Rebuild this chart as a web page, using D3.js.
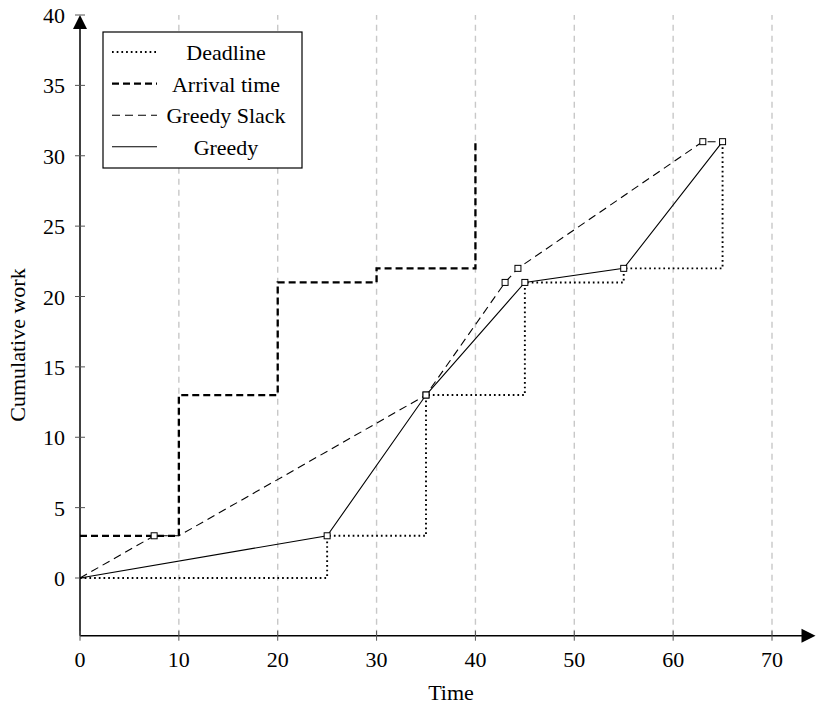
<!DOCTYPE html>
<html>
<head>
<meta charset="utf-8">
<script src="https://cdn.jsdelivr.net/npm/d3@7"></script>
<style>
  html, body { margin: 0; padding: 0; background: #fff; }
  svg { display: block; font-family: "Liberation Serif", "DejaVu Serif", serif; }
</style>
</head>
<body>
<div id="chart"></div>
<script>
const xTicks = [0, 10, 20, 30, 40, 50, 60, 70];
const yTicks = [0, 5, 10, 15, 20, 25, 30, 35, 40];

const deadlineX = [0, 25, 25, 35, 35, 45, 45, 55, 55, 65, 65];
const deadlineY = [0, 0, 3, 3, 13, 13, 21, 21, 22, 22, 31];

const arrivalX = [0, 10, 10, 20, 20, 30, 30, 40, 40];
const arrivalY = [3, 3, 13, 13, 21, 21, 22, 22, 31];

const slackX = [0, 7.5, 10, 35, 43, 44.3, 63, 65];
const slackY = [0, 3, 3, 13, 21, 22, 31, 31];
const slackMarkX = [7.5, 35, 43, 44.3, 63];
const slackMarkY = [3, 13, 21, 22, 31];

const greedyX = [0, 25, 35, 45, 55, 65];
const greedyY = [0, 3, 13, 21, 22, 31];
const greedyMarkX = [25, 35, 45, 55, 65];
const greedyMarkY = [3, 13, 21, 22, 31];

const legendLabels = ["Deadline", "Arrival time", "Greedy Slack", "Greedy"];

const width = 816, height = 707;
const xMax = 74.4, yMin = -4.1, yMax = 40;
const fontSize = 22;

const x = d3.scaleLinear().domain([0, 70]).range([80, 772]);
const y = d3.scaleLinear().domain([0, 40]).range([578, 15]);

const styles = {
  deadline: { width: 1.9, dash: "1.7 3", color: "#000" },
  arrival: { width: 2.3, dash: "7 4", color: "#000" },
  slack: { width: 1.1, dash: "8 5", color: "#000" },
  greedy: { width: 1.1, dash: null, color: "#000" }
};

const svg = d3.select("#chart").append("svg")
  .attr("width", width)
  .attr("height", height);

// vertical grid
svg.append("g")
  .selectAll("line")
  .data(xTicks.filter((d) => d > 0))
  .join("line")
  .attr("x1", (d) => x(d)).attr("x2", (d) => x(d))
  .attr("y1", y(yMin)).attr("y2", y(yMax))
  .attr("stroke", "#c8c8c8")
  .attr("stroke-width", 1.4)
  .attr("stroke-dasharray", "6 5");

// axes with arrow heads
svg.append("line")
  .attr("x1", x(0)).attr("x2", x(xMax) - 10)
  .attr("y1", y(yMin)).attr("y2", y(yMin))
  .attr("stroke", "#000").attr("stroke-width", 1.5);
svg.append("path")
  .attr("d", `M${x(xMax)},${y(yMin)} L${x(xMax) - 14},${y(yMin) - 7} L${x(xMax) - 14},${y(yMin) + 7} Z`)
  .attr("fill", "#000");

svg.append("line")
  .attr("x1", x(0)).attr("x2", x(0))
  .attr("y1", y(yMin)).attr("y2", y(yMax) + 10)
  .attr("stroke", "#000").attr("stroke-width", 1.5);
svg.append("path")
  .attr("d", `M${x(0)},${y(yMax)} L${x(0) - 7},${y(yMax) + 14} L${x(0) + 7},${y(yMax) + 14} Z`)
  .attr("fill", "#000");

// ticks
svg.append("g")
  .selectAll("line")
  .data(xTicks)
  .join("line")
  .attr("x1", (d) => x(d)).attr("x2", (d) => x(d))
  .attr("y1", y(yMin) - 5).attr("y2", y(yMin) + 5)
  .attr("stroke", "#555").attr("stroke-width", 1);

svg.append("g")
  .selectAll("line")
  .data(yTicks)
  .join("line")
  .attr("x1", x(0) - 5).attr("x2", x(0) + 5)
  .attr("y1", (d) => y(d)).attr("y2", (d) => y(d))
  .attr("stroke", "#555").attr("stroke-width", 1);

svg.append("g")
  .selectAll("text")
  .data(xTicks)
  .join("text")
  .attr("x", (d) => x(d))
  .attr("y", y(yMin) + 31)
  .attr("text-anchor", "middle")
  .attr("font-size", fontSize)
  .text((d) => d);

svg.append("g")
  .selectAll("text")
  .data(yTicks)
  .join("text")
  .attr("x", x(0) - 15)
  .attr("y", (d) => y(d) + 8)
  .attr("text-anchor", "end")
  .attr("font-size", fontSize)
  .text((d) => d);

svg.append("text")
  .attr("x", 451)
  .attr("y", 700)
  .attr("text-anchor", "middle")
  .attr("font-size", fontSize)
  .text("Time");

svg.append("text")
  .attr("transform", "translate(25,345) rotate(-90)")
  .attr("text-anchor", "middle")
  .attr("font-size", fontSize)
  .text("Cumulative work");

// series
const toPoints = (xs, ys) => xs.map((v, i) => [v, ys[i]]);
const line = d3.line().x((d) => x(d[0])).y((d) => y(d[1]));

function drawSeries(points, style) {
  svg.append("path")
    .datum(points)
    .attr("d", line)
    .attr("fill", "none")
    .attr("stroke", style.color)
    .attr("stroke-width", style.width)
    .attr("stroke-dasharray", style.dash);
}

drawSeries(toPoints(deadlineX, deadlineY), styles.deadline);
drawSeries(toPoints(arrivalX, arrivalY), styles.arrival);
drawSeries(toPoints(slackX, slackY), styles.slack);
drawSeries(toPoints(greedyX, greedyY), styles.greedy);

function drawMarks(points) {
  svg.append("g")
    .selectAll("rect")
    .data(points)
    .join("rect")
    .attr("x", (d) => x(d[0]) - 3)
    .attr("y", (d) => y(d[1]) - 3)
    .attr("width", 6)
    .attr("height", 6)
    .attr("fill", "#fff")
    .attr("stroke", "#000")
    .attr("stroke-width", 1);
}

drawMarks(toPoints(slackMarkX, slackMarkY));
drawMarks(toPoints(greedyMarkX, greedyMarkY));

// legend
const legend = svg.append("g").attr("transform", "translate(103,32)");
legend.append("rect")
  .attr("width", 199).attr("height", 136)
  .attr("fill", "#fff")
  .attr("stroke", "#000").attr("stroke-width", 1.2);

const legendStyles = [styles.deadline, styles.arrival, styles.slack, styles.greedy];
legendLabels.forEach((label, i) => {
  const cy = 20 + i * 31.6;
  const st = legendStyles[i];
  legend.append("line")
    .attr("x1", 9).attr("x2", 54)
    .attr("y1", cy).attr("y2", cy)
    .attr("stroke", st.color)
    .attr("stroke-width", st.width)
    .attr("stroke-dasharray", st.dash);
  legend.append("text")
    .attr("x", 123)
    .attr("y", cy + 8)
    .attr("text-anchor", "middle")
    .attr("font-size", fontSize)
    .text(label);
});
</script>
</body>
</html>
